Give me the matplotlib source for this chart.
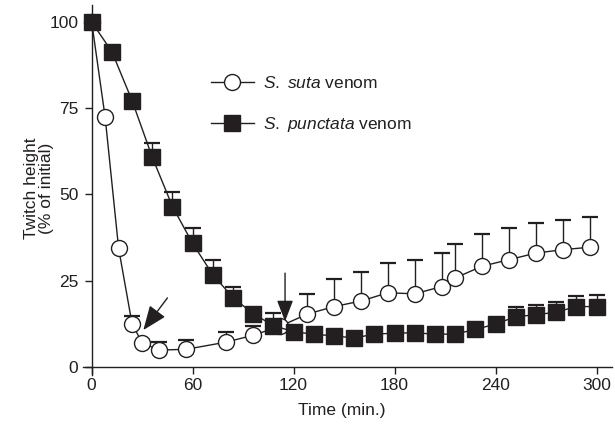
import numpy as np
import matplotlib
matplotlib.use("Agg")
import matplotlib.pyplot as plt

plt.rcParams['font.family'] = ['Liberation Sans', 'DejaVu Sans']
plt.rcParams['mathtext.fontset'] = 'custom'
plt.rcParams['mathtext.rm'] = 'Liberation Sans'
plt.rcParams['mathtext.it'] = 'Liberation Sans:italic'

INK = '#231f20'

# S. suta venom (open circles)
suta_time = [0, 8, 16, 24, 30, 40, 56, 80, 96, 112, 128, 144, 160, 176, 192,
             208, 216, 232, 248, 264, 280, 296]
suta_mean = [100, 72.4, 34.4, 12.5, 7.0, 4.9, 5.1, 7.2, 9.2, 11.8, 15.3, 17.5,
             19.1, 21.5, 21.2, 23.3, 25.8, 29.2, 31.1, 33.0, 34.0, 34.7]
suta_top = [100, 72.4, 34.4, 14.9, 7.0, 7.3, 7.7, 10.2, 12.0, 11.8, 21.1, 25.4,
            27.6, 30.2, 31.0, 33.1, 35.7, 38.6, 40.3, 41.8, 42.6, 43.4]

# S. punctata venom (filled squares)
punc_time = [0, 12, 24, 36, 48, 60, 72, 84, 96, 108, 120, 132, 144, 156, 168,
             180, 192, 204, 216, 228, 240, 252, 264, 276, 288, 300]
punc_mean = [100, 91.4, 77.2, 60.8, 46.5, 35.8, 26.7, 20.1, 15.4, 12.0, 10.2,
             9.5, 9.0, 8.4, 9.5, 9.8, 9.9, 9.5, 9.5, 10.9, 12.4, 14.6, 15.1,
             15.9, 17.5, 17.5]
punc_top = [100, 91.4, 77.2, 64.8, 50.6, 40.2, 31.0, 23.3, 15.4, 15.7, 10.2,
            9.5, 9.0, 8.4, 9.5, 9.8, 9.9, 9.5, 9.5, 10.9, 12.4, 17.4, 18.0,
            18.8, 20.5, 20.9]

x_ticks = [0, 60, 120, 180, 240, 300]
y_ticks = [0, 25, 50, 75, 100]

fig = plt.figure(figsize=(6.15, 4.26), dpi=100)
ax = fig.add_axes([0.1354, 0.12, 0.8592, 0.8689])


def draw_series(t, m, top, marker, face, label, z):
    t = np.array(t)
    m = np.array(m)
    up = np.array(top) - m
    ax.errorbar(t, m, yerr=[np.zeros_like(up), up], fmt='none', ecolor=INK,
                elinewidth=1.0, capsize=6, capthick=1.6, zorder=z)
    ax.plot(t, m, color=INK, lw=1.0, marker=marker, markersize=11.5,
            markerfacecolor=face, markeredgecolor=INK, markeredgewidth=1.0,
            label=label, zorder=z + 1)


draw_series(suta_time, suta_mean, suta_top, 'o', 'white',
            r'$\it{S.}$ $\it{suta}$ venom', 3)
draw_series(punc_time, punc_mean, punc_top, 's', INK,
            r'$\it{S.}$ $\it{punctata}$ venom', 5)

# arrows marking the two time points
ax.annotate('', xy=(30.7, 10.7), xytext=(45, 20),
            arrowprops=dict(arrowstyle='-|>,head_length=0.75,head_width=0.3',
                            mutation_scale=20, color=INK, lw=1.0,
                            shrinkA=0, shrinkB=0), zorder=8)
ax.annotate('', xy=(114.9, 13.2), xytext=(114.9, 27.2),
            arrowprops=dict(arrowstyle='-|>,head_length=0.65,head_width=0.25',
                            mutation_scale=20, color=INK, lw=1.0,
                            shrinkA=0, shrinkB=0), zorder=8)

ax.set_xlim(-5, 309)
ax.set_ylim(-2.3, 105)
ax.spines['left'].set_position(('data', 0))
ax.spines['bottom'].set_position(('data', 0))
ax.spines['top'].set_visible(False)
ax.spines['right'].set_visible(False)
for s in ('left', 'bottom'):
    ax.spines[s].set_color(INK)
    ax.spines[s].set_linewidth(1.0)

ax.set_xticks(x_ticks)
ax.set_yticks(y_ticks)
ax.tick_params(direction='out', length=5, width=1.0, colors=INK,
               labelsize=12.5)
ax.tick_params(axis='y', pad=4.5)
ax.tick_params(axis='x', pad=3)

ax.set_xlabel('Time (min.)', fontsize=12.5, color=INK)
ax.set_ylabel('Twitch height\n(% of initial)', fontsize=12.5, color=INK,
              linespacing=1.0)
ax.xaxis.set_label_coords(0.49, -0.075)
ax.yaxis.set_label_coords(-0.055, 0.505)

leg = ax.legend(loc='upper left', bbox_to_anchor=(0.228, 0.828), frameon=False,
                fontsize=12.5, handlelength=2.5, handletextpad=0.5,
                labelspacing=1.35, borderaxespad=0)
for t in leg.get_texts():
    t.set_color(INK)

fig.savefig('out.png', dpi=100)
